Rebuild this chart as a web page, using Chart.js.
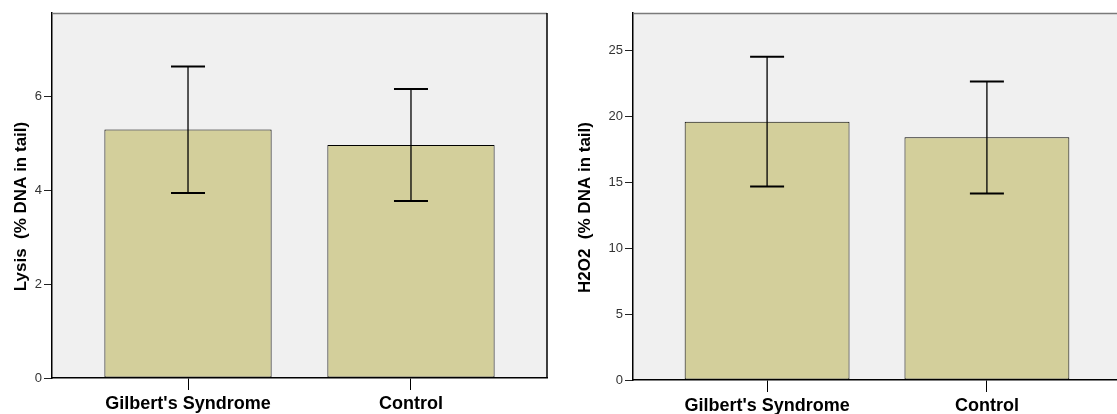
<!DOCTYPE html>
<html lang="en">
<head>
<meta charset="UTF-8" />
<title>Lysis and H2O2 - % DNA in tail</title>
<script src="https://cdn.jsdelivr.net/npm/chart.js"></script>
<style>
  html, body { margin: 0; padding: 0; background: #fff; overflow: hidden; }
  .panel { position: absolute; top: 0; height: 414px; }
  #left { left: 0; width: 560px; }
  #right { left: 560px; width: 561px; }
</style>
</head>
<body>
<div class="panel" id="left"><canvas id="lysis"></canvas></div>
<div class="panel" id="right"><canvas id="h2o2"></canvas></div>

<script>
// categories
const groups = ["Gilbert's Syndrome", "Control"];

// Lysis (% DNA in tail): mean and error bar ends
const lysisMean = [5.29, 4.96];
const lysisLow = [3.94, 3.77];
const lysisHigh = [6.63, 6.15];
const lysisTicks = [0, 2, 4, 6];

// H2O2 (% DNA in tail)
const h2o2Mean = [19.62, 18.44];
const h2o2Low = [14.69, 14.16];
const h2o2High = [24.55, 22.66];
const h2o2Ticks = [0, 5, 10, 15, 20, 25];

const barFill = '#d3cf9b';
const plotBg = '#f0f0f0';
const fontFamily = 'Liberation Sans, Arial, sans-serif';

// fondo y marco del area de trazado
const framePlugin = {
  id: 'frame',
  beforeDraw(chart) {
    const { ctx, chartArea: a } = chart;
    ctx.save();
    ctx.fillStyle = plotBg;
    ctx.fillRect(a.left, a.top, a.right - a.left, a.bottom - a.top);
    ctx.restore();
  },
  afterDraw(chart) {
    const { ctx, chartArea: a } = chart;
    ctx.save();
    ctx.strokeStyle = '#7a7a7a';
    ctx.lineWidth = 1.5;
    ctx.beginPath();
    ctx.moveTo(a.left, a.top + 0.5);
    ctx.lineTo(a.right, a.top + 0.5);
    ctx.stroke();
    ctx.strokeStyle = '#000';
    ctx.lineWidth = 1.5;
    ctx.beginPath();
    ctx.moveTo(a.right, a.top);
    ctx.lineTo(a.right, a.bottom);
    ctx.stroke();
    ctx.restore();
  }
};

// titulo del eje y (un poco por debajo del centro, como en el original)
const yTitlePlugin = {
  id: 'yTitle',
  afterDraw(chart, args, opts) {
    const { ctx, chartArea: a } = chart;
    ctx.save();
    ctx.translate(opts.x, (a.top + a.bottom) / 2 + 11);
    ctx.rotate(-Math.PI / 2);
    ctx.font = 'bold 17px ' + fontFamily;
    ctx.fillStyle = '#000';
    ctx.textAlign = 'center';
    ctx.textBaseline = 'middle';
    ctx.fillText(opts.text, 0, 0);
    ctx.restore();
  }
};

// barras de error
const errorBarPlugin = {
  id: 'errorBars',
  afterDatasetsDraw(chart, args, opts) {
    const { ctx } = chart;
    const xs = chart.scales.x, ys = chart.scales.y;
    ctx.save();
    ctx.strokeStyle = '#000';
    opts.low.forEach((lo, i) => {
      const hi = opts.high[i];
      const x = xs.getPixelForValue(i);
      const yLo = ys.getPixelForValue(lo);
      const yHi = ys.getPixelForValue(hi);
      ctx.lineWidth = 1.3;
      ctx.beginPath();
      ctx.moveTo(x, yHi);
      ctx.lineTo(x, yLo);
      ctx.stroke();
      ctx.lineWidth = 2;
      ctx.beginPath();
      ctx.moveTo(x - 17, yHi);
      ctx.lineTo(x + 17, yHi);
      ctx.moveTo(x - 17, yLo);
      ctx.lineTo(x + 17, yLo);
      ctx.stroke();
    });
    ctx.restore();
  }
};

function makeChart(id, means, low, high, ticks, yMax, title, yWidth, xHeight, padRight, titleX) {
  return new Chart(document.getElementById(id), {
    type: 'bar',
    data: {
      datasets: [{
        data: means.map((v, i) => ({ x: i, y: v })),
        backgroundColor: barFill,
        borderColor: '#000',
        borderWidth: 1,
        borderSkipped: false,
        barPercentage: 0.75,
        categoryPercentage: 1
      }]
    },
    options: {
      responsive: true,
      maintainAspectRatio: false,
      animation: false,
      layout: { padding: { top: 13, right: padRight, left: 0, bottom: 0 } },
      plugins: {
        legend: { display: false },
        tooltip: { enabled: false },
        errorBars: { low, high },
        yTitle: { text: title, x: titleX }
      },
      scales: {
        x: {
          type: 'linear',
          offset: false,
          min: -0.61,
          max: 1.61,
          afterBuildTicks: s => { s.ticks = groups.map((g, i) => ({ value: i })); },
          afterFit: s => { s.height = xHeight; },
          grid: { offset: false, drawOnChartArea: false, drawTicks: true, tickLength: 12, color: '#000', lineWidth: 1 },
          border: { display: true, color: '#000', width: 1.5 },
          ticks: {
            padding: 3,
            color: '#000',
            maxRotation: 0,
            autoSkip: false,
            font: { family: fontFamily, size: 18, weight: 'bold' },
            callback: v => groups[v]
          }
        },
        y: {
          min: 0,
          max: yMax,
          afterBuildTicks: s => { s.ticks = ticks.map(v => ({ value: v })); },
          afterFit: s => { s.width = yWidth; },
          grid: { drawOnChartArea: false, drawTicks: true, tickLength: 8, color: '#222', lineWidth: 1 },
          border: { display: true, color: '#000', width: 1.5 },
          ticks: {
            padding: 2,
            color: '#333',
            font: { family: fontFamily, size: 13 }
          }
        }
      }
    },
    plugins: [framePlugin, errorBarPlugin, yTitlePlugin]
  });
}

makeChart('lysis', lysisMean, lysisLow, lysisHigh, lysisTicks, 7.77, 'Lysis  (% DNA in tail)', 52, 36, 13, 21);
makeChart('h2o2', h2o2Mean, h2o2Low, h2o2High, h2o2Ticks, 27.87, 'H2O2  (% DNA in tail)', 73, 34, 0, 25);
</script>
</body>
</html>
